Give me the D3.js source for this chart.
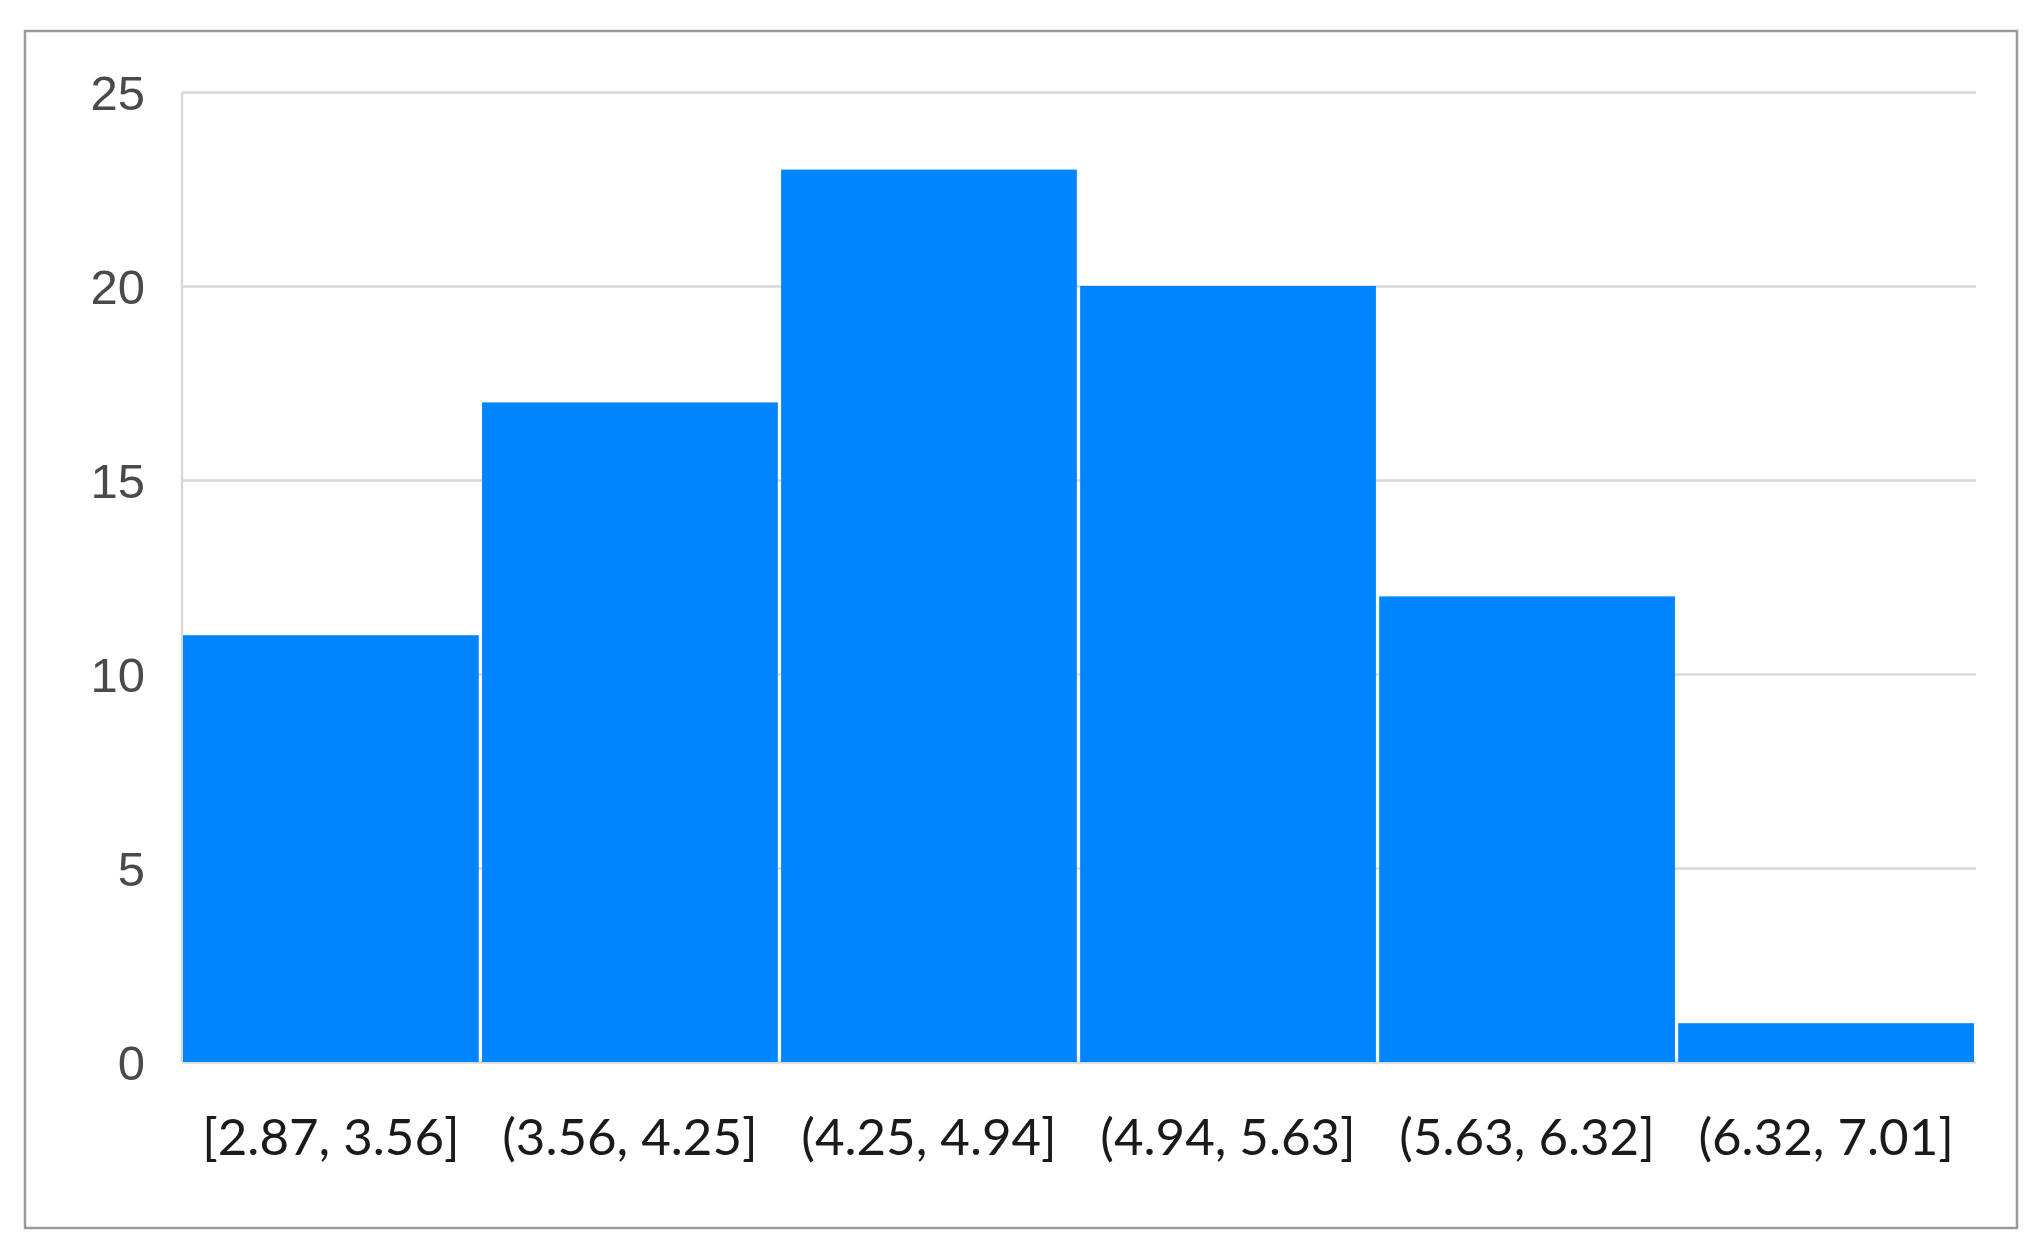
<!DOCTYPE html>
<html>
<head>
<meta charset="utf-8">
<script src="https://cdn.jsdelivr.net/npm/d3@7"></script>
<style>
  html, body { margin: 0; padding: 0; background: #fff; }
  svg { display: block; }
</style>
</head>
<body>
<svg id="chart" width="2044" height="1251"></svg>
<script>
const categories = ["[2.87, 3.56]", "(3.56, 4.25]", "(4.25, 4.94]", "(4.94, 5.63]", "(5.63, 6.32]", "(6.32, 7.01]"];
const counts = [11, 17, 23, 20, 12, 1];
const yTicks = [0, 5, 10, 15, 20, 25];

const svg = d3.select("#chart");

// outer frame
svg.append("rect")
  .attr("x", 25).attr("y", 31)
  .attr("width", 2017 - 25).attr("height", 1228 - 31)
  .attr("fill", "#fff")
  .attr("stroke", "#9a9a9a")
  .attr("stroke-width", 2.5);

const plotLeft = 182, plotRight = 1976, plotTop = 92, plotBottom = 1062;

const x = d3.scaleBand()
  .domain(categories)
  .range([plotLeft + 1, plotRight - 2])
  .paddingInner(0.011)
  .paddingOuter(0);

const y = d3.scaleLinear()
  .domain([0, 25])
  .range([plotBottom, plotTop]);

// gridlines + y labels
const yAxis = d3.axisLeft(y)
  .tickValues(yTicks)
  .tickSize(-(plotRight - plotLeft))
  .tickPadding(37)
  .tickFormat(d3.format("d"));

const gy = svg.append("g")
  .attr("transform", `translate(${plotLeft},0)`)
  .call(yAxis);
gy.select(".domain").remove();
gy.selectAll(".tick line")
  .attr("stroke", "#d8d8d8")
  .attr("stroke-width", 2.5);
gy.selectAll(".tick text")
  .attr("fill", "#4a4a4a")
  .attr("font-family", "'Liberation Sans', Arial, sans-serif")
  .attr("font-size", 49)
  .attr("dy", "0.36em");

// vertical axis line
svg.append("line")
  .attr("x1", plotLeft).attr("x2", plotLeft)
  .attr("y1", plotTop).attr("y2", plotBottom)
  .attr("stroke", "#d8d8d8")
  .attr("stroke-width", 2.5);

// bars
svg.append("g")
  .selectAll("rect")
  .data(counts)
  .join("rect")
  .attr("x", (d, i) => x(categories[i]))
  .attr("width", x.bandwidth())
  .attr("y", d => y(d))
  .attr("height", d => y(0) - y(d))
  .attr("fill", "#0084FF");

// x labels
const xAxis = d3.axisBottom(x).tickSize(0).tickPadding(0);
const gx = svg.append("g")
  .attr("transform", `translate(0,${plotBottom})`)
  .call(xAxis);
gx.select(".domain").remove();
gx.selectAll(".tick text")
  .attr("fill", "#1a1a1a")
  .attr("font-family", "Lato, 'Open Sans', sans-serif")
  .attr("font-size", 51)
  .attr("dy", null)
  .attr("y", 93);
</script>
</body>
</html>
